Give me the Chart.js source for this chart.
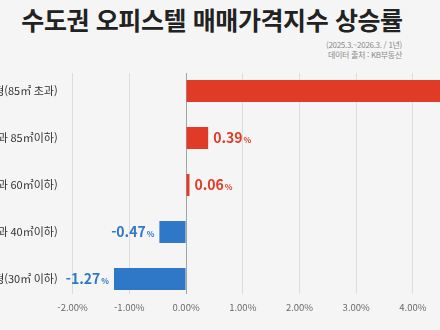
<!DOCTYPE html>
<html lang="ko">
<head>
<meta charset="utf-8">
<script src="https://cdn.jsdelivr.net/npm/chart.js@4.4.1/dist/chart.umd.min.js"></script>
<style>
  html, body { margin: 0; padding: 0; }
  body {
    width: 440px; height: 330px; overflow: hidden; position: relative;
    background: #f5f5f5; font-family: "Noto Sans CJK KR", "Noto Sans", sans-serif;
  }
  #title {
    position: absolute; left: 0; width: 424px; top: 1px; text-align: center;
    font-size: 25px; font-weight: bold; color: #222; letter-spacing: -0.4px;
  }
  #period, #source {
    position: absolute; right: 38px; font-size: 8px; color: #8a8a8a; letter-spacing: -0.3px;
  }
  #period { top: 39px; }
  #source { top: 49px; }
  #chart { position: absolute; left: 0; top: 0; }
</style>
</head>
<body>
<div id="title">수도권 오피스텔 매매가격지수 상승률</div>
<div id="period">(2025.3.~2026.3. / 1년)</div>
<div id="source">데이터 출처 : KB부동산</div>
<canvas id="chart" width="548" height="330"></canvas>
<script>
/***** 면적별 상승률 (%) *****/
let CATEGORIES = ["대형(85㎡ 초과)", "중대형(60㎡ 초과 85㎡이하)", "중형(40㎡ 초과 60㎡이하)", "소형(30㎡ 초과 40㎡이하)", "초소형(30㎡ 이하)"];
let RATES = [5.20, 0.39, 0.06, -0.47, -1.27];
let X_TICKS = [-2, -1, 0, 1, 2, 3, 4, 5, 6];

const RED = "#e03b26";
const BLUE = "#2f77c7";
const FONT = "'Noto Sans CJK KR', 'Noto Sans', sans-serif";

//Value labels next to each bar, number big and % small
const valueLabels = {
    id: 'valueLabels',
    afterDatasetsDraw(chart) {
        let ctx = chart.ctx;
        let meta = chart.getDatasetMeta(0);
        ctx.save();
        ctx.textBaseline = 'alphabetic';
        ctx.textAlign = 'left';
        meta.data.forEach(function (bar, i) {
            let v = RATES[i];
            let num = v.toFixed(2);
            ctx.fillStyle = v >= 0 ? RED : BLUE;
            ctx.font = "bold 14px " + FONT;
            let wNum = ctx.measureText(num).width;
            ctx.font = "bold 8px " + FONT;
            let wPct = ctx.measureText("%").width;
            let y = bar.y + 5;
            let x = v >= 0 ? bar.x + 5 : bar.x - 5 - wNum - wPct - 1;
            ctx.font = "bold 14px " + FONT;
            ctx.fillText(num, x, y);
            ctx.font = "bold 8px " + FONT;
            ctx.fillText("%", x + wNum + 1, y);
        });
        ctx.restore();
    }
};

new Chart(document.getElementById('chart'), {
    type: 'bar',
    data: {
        datasets: [{
            data: RATES.map(function (v, i) { return {x: v, y: i}; }),
            backgroundColor: RATES.map(function (v) { return v >= 0 ? RED : BLUE; }),
            categoryPercentage: 1,
            barPercentage: 0.47
        }]
    },
    options: {
        indexAxis: 'y',
        responsive: false,
        animation: false,
        layout: {padding: {top: 73, left: 0, right: 0, bottom: 0}},
        plugins: {legend: {display: false}, tooltip: {enabled: false}, title: {display: false}},
        scales: {
            x: {
                type: 'linear',
                min: X_TICKS[0],
                max: X_TICKS[X_TICKS.length - 1],
                afterBuildTicks: function (scale) {
                    scale.ticks = X_TICKS.map(function (t) { return {value: t}; });
                },
                afterFit: function (scale) { scale.height = 36; },
                grid: {
                    drawTicks: false,
                    color: function (c) { return c.tick && c.tick.value === 0 ? '#a3a3a3' : '#dcdcdc'; }
                },
                border: {display: false},
                ticks: {
                    padding: 8,
                    color: '#6b6b6b',
                    font: {family: FONT, size: 9.5},
                    callback: function (v) { return v.toFixed(2) + '%'; }
                }
            },
            y: {
                type: 'linear',
                reverse: true,
                offset: false,
                min: -0.383,
                max: 4.319,
                afterFit: function (scale) { scale.width = 72.6; },
                grid: {display: false, drawTicks: false},
                border: {display: false},
                ticks: {
                    stepSize: 1,
                    includeBounds: false,
                    autoSkip: false,
                    padding: 15,
                    color: '#333333',
                    font: {family: FONT, size: 11},
                    callback: function (v) { return Number.isInteger(v) ? CATEGORIES[v] : ''; }
                }
            }
        }
    },
    plugins: [valueLabels]
});
</script>
</body>
</html>
